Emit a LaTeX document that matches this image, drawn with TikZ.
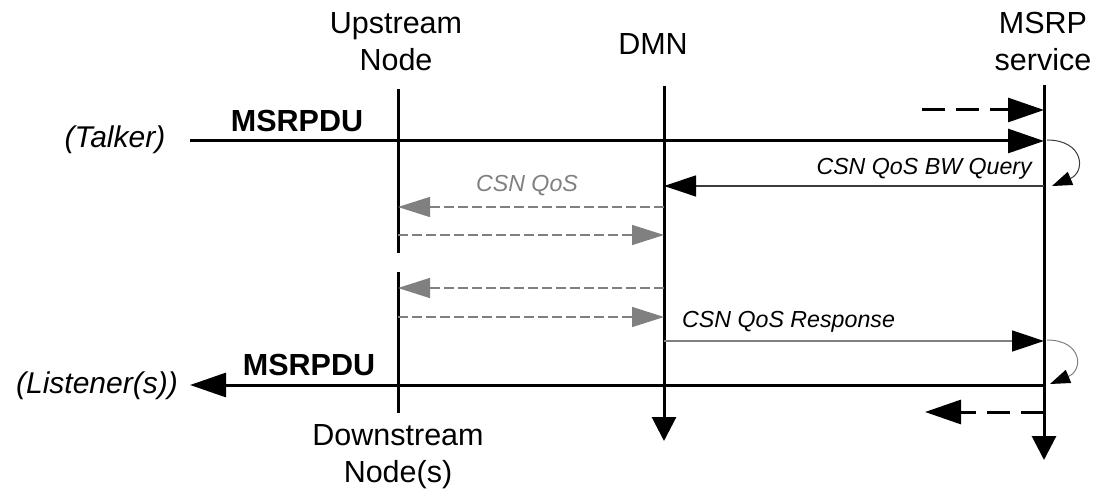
\documentclass[tikz,border=0pt]{standalone}
\usepackage{fontspec}
\setmainfont{Liberation Sans}
\usetikzlibrary{arrows.meta}
\definecolor{msggray}{RGB}{128,128,128}
\definecolor{thinline}{RGB}{60,60,60}
\tikzset{
  big/.style={font=\fontsize{30.5}{37}\selectfont, inner sep=0pt, align=center},
  bigbold/.style={font=\bfseries\fontsize{30.5}{37}\selectfont, inner sep=0pt},
  bigit/.style={font=\itshape\fontsize{30}{37}\selectfont, inner sep=0pt},
  smallit/.style={font=\itshape\fontsize{23.2}{26}\selectfont, inner sep=0pt},
  lifeline/.style={line width=3pt, black},
  vtip/.style={-{Triangle[length=24pt,width=24pt]}},
  bigmsg/.style={line width=3pt, black, -{Triangle[length=36pt,width=24pt]}},
  bigdash/.style={bigmsg, dash pattern=on 23pt off 11pt},
  graymsg/.style={line width=1.3pt, msggray, dash pattern=on 10pt off 4pt, -{Triangle[length=32pt,width=20pt]}},
  thinmsg/.style={line width=1.3pt, -{Triangle[length=32pt,width=21pt,color=black,fill=black]}},
  loopline/.style={line width=1pt, thinline, -{Triangle[length=20pt,width=14pt,color=black,fill=black]}},
}
\begin{document}
\begin{tikzpicture}[x=1pt,y=-1pt]
\useasboundingbox (0,0) rectangle (1098,494);

% lifeline labels
\node[big] (up) at (396,42) {Upstream\\Node};
\node[big, anchor=base] (dmn) at (653,55) {DMN};
\node[big] (msrp) at (1043,42) {MSRP\\service};
\node[big] (down) at (398,457) {Downstream\\Node(s)};

% lifeline coordinates
\coordinate (upA) at (398,89);
\coordinate (upB) at (398,253);
\coordinate (upC) at (398,272);
\coordinate (upD) at (398,413);
\coordinate (dmnT) at (664,86);
\coordinate (dmnB) at (664,441);
\coordinate (msT) at (1044,85);
\coordinate (msB) at (1044,460);

\draw[lifeline] (upA) -- (upB);
\draw[lifeline] (upC) -- (upD);
\draw[lifeline, vtip] (dmnT) -- (dmnB);
\draw[lifeline, vtip] (msT) -- (msB);

% end points
\coordinate (dashS) at (922,110);
\coordinate (dashE) at (1044,110);
\coordinate (talkS) at (190,141);
\coordinate (msA) at (1044,141);
\coordinate (loopA) at (1047,140);
\coordinate (loopAe) at (1052,186);
\coordinate (msQ) at (1044,186);
\coordinate (dmnQ) at (664,186);
\coordinate (g1a) at (664,207);
\coordinate (g1b) at (398,207);
\coordinate (g2a) at (398,235);
\coordinate (g2b) at (664,235);
\coordinate (g3a) at (664,288);
\coordinate (g3b) at (398,288);
\coordinate (g4a) at (398,317);
\coordinate (g4b) at (664,317);
\coordinate (dmnR) at (664,341);
\coordinate (msR) at (1044,341);
\coordinate (loopB) at (1047,340);
\coordinate (loopBe) at (1050,384);
\coordinate (msL) at (1044,385);
\coordinate (lisE) at (190,385);
\coordinate (dash2S) at (1044,412);
\coordinate (dash2E) at (925,412);

% messages
\draw[bigdash] (dashS) -- (dashE);
\draw[bigmsg] (talkS) -- (msA);
\draw[loopline] (loopA) .. controls (1084,140) and (1086,172) .. (loopAe);
\draw[thinmsg, thinline] (msQ) -- (dmnQ);
\draw[graymsg] (g1a) -- (g1b);
\draw[graymsg] (g2a) -- (g2b);
\draw[graymsg] (g3a) -- (g3b);
\draw[graymsg] (g4a) -- (g4b);
\draw[thinmsg, msggray] (dmnR) -- (msR);
\draw[loopline, msggray] (loopB) .. controls (1082,340) and (1084,370) .. (loopBe);
\draw[bigmsg] (msL) -- (lisE);
\draw[bigdash] (dash2S) -- (dash2E);

% labels
\node[bigit, anchor=base] (talker) at (115,148) {(Talker)};
\node[bigit, anchor=base east] (listener) at (178,393) {(Listener(s))};
\node[bigbold, anchor=base] (pdu1) at (297,132) {MSRPDU};
\node[bigbold, anchor=base] (pdu2) at (309,375) {MSRPDU};
\node[smallit, anchor=base east] (bwq) at (1032,175) {CSN QoS BW Query};
\node[smallit, anchor=base, text=msggray] (csnqos) at (527,192) {CSN QoS};
\node[smallit, anchor=base west] (resp) at (682,328) {CSN QoS Response};
\end{tikzpicture}
\end{document}
